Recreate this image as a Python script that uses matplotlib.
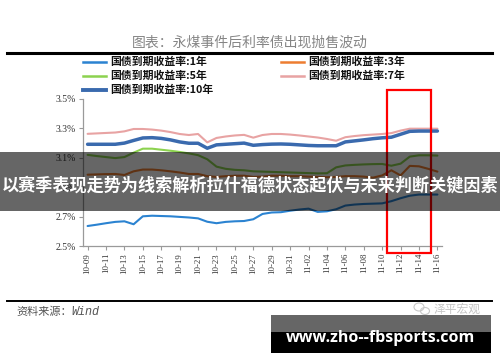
import matplotlib
matplotlib.use("Agg")
import matplotlib.pyplot as plt
from matplotlib.patches import Rectangle, Ellipse
from matplotlib.lines import Line2D

W, H = 500, 362
CJK = ["Noto Sans CJK SC", "DejaVu Sans"]
SERIF = ["Liberation Serif", "DejaVu Serif"]

# ── Data ──────────────────────────────────────────────────────────────────────
dates = [
    "10-09", "10-10", "10-11", "10-12", "10-13", "10-14", "10-15", "10-16",
    "10-17", "10-18", "10-19", "10-20", "10-21", "10-22", "10-23", "10-24",
    "10-25", "10-26", "10-27", "10-28", "10-29", "10-30", "10-31", "11-01",
    "11-02", "11-03", "11-04", "11-05", "11-06", "11-07", "11-08", "11-09",
    "11-10", "11-11", "11-12", "11-13", "11-14", "11-15", "11-16",
]
yield_1y = [2.636, 2.645, 2.655, 2.664, 2.668, 2.648, 2.702, 2.706, 2.704,
            2.702, 2.698, 2.694, 2.688, 2.665, 2.655, 2.664, 2.668, 2.670,
            2.682, 2.718, 2.728, 2.730, 2.740, 2.748, 2.754, 2.732, 2.736,
            2.750, 2.775, 2.782, 2.786, 2.788, 2.790, 2.805, 2.825, 2.842,
            2.850, 2.850, 2.850]
yield_3y = [2.985, 2.987, 2.989, 2.990, 2.983, 3.008, 3.020, 3.020, 3.015,
            3.008, 3.000, 2.990, 2.990, 2.975, 2.970, 2.975, 2.978, 2.978,
            2.970, 2.972, 2.978, 2.978, 2.975, 2.975, 2.972, 2.970, 2.968,
            2.970, 2.975, 2.975, 2.972, 2.965, 2.980, 3.015, 2.980, 3.045,
            3.042, 3.025, 3.006]
yield_5y = [3.120, 3.112, 3.105, 3.098, 3.105, 3.135, 3.162, 3.162, 3.155,
            3.148, 3.140, 3.130, 3.118, 3.090, 3.040, 3.025, 3.018, 3.015,
            3.008, 3.006, 3.004, 3.002, 3.000, 2.998, 2.996, 2.994, 2.995,
            3.035, 3.048, 3.052, 3.055, 3.057, 3.058, 3.046, 3.060, 3.108,
            3.117, 3.117, 3.115]
yield_7y = [3.263, 3.266, 3.269, 3.272, 3.280, 3.296, 3.296, 3.292, 3.285,
            3.275, 3.262, 3.255, 3.262, 3.205, 3.235, 3.245, 3.252, 3.256,
            3.237, 3.255, 3.262, 3.262, 3.258, 3.252, 3.245, 3.238, 3.228,
            3.216, 3.240, 3.248, 3.254, 3.258, 3.262, 3.268, 3.285, 3.298,
            3.298, 3.298, 3.298]
yield_10y = [3.192, 3.192, 3.192, 3.192, 3.200, 3.218, 3.235, 3.237, 3.232,
             3.222, 3.208, 3.199, 3.199, 3.165, 3.188, 3.192, 3.196, 3.200,
             3.185, 3.190, 3.193, 3.194, 3.192, 3.188, 3.184, 3.182, 3.182,
             3.182, 3.208, 3.215, 3.222, 3.230, 3.236, 3.240, 3.260, 3.280,
             3.282, 3.282, 3.282]
y_ticks = [2.5, 2.7, 2.9, 3.1, 3.3, 3.5]
y_tick_labels = ["2.5%", "2.7%", "2.9%", "3.1%", "3.3%", "3.5%"]

series = [
    ("国债到期收益率:1年", yield_1y, "#2B83D1", 1.5),
    ("国债到期收益率:3年", yield_3y, "#ED7D31", 1.5),
    ("国债到期收益率:5年", yield_5y, "#8CD24F", 1.5),
    ("国债到期收益率:7年", yield_7y, "#E8A3A3", 1.5),
    ("国债到期收益率:10年", yield_10y, "#3A6AAE", 2.5),
]


def fx(x):
    return x / W


def fy(y):
    return 1 - y / H


fig = plt.figure(figsize=(W / 100, H / 100), dpi=100)
fig.patch.set_facecolor("white")

# ── Main axes ─────────────────────────────────────────────────────────────────
ax = fig.add_axes([fx(83), fy(246), (442 - 83) / W, 147 / H])
x = list(range(len(dates)))
for name, vals, color, lw in series:
    ax.plot(x, vals, color=color, lw=lw, solid_capstyle="round")

ax.set_xlim(-0.5, len(dates) - 0.5)
ax.set_ylim(2.5, 3.5)
ax.set_yticks(y_ticks)
ax.set_yticklabels(y_tick_labels, family=SERIF, fontsize=7, color="#333333")
ax.set_xticks(x[::2])
ax.set_xticklabels(dates[::2], rotation=90, family=SERIF, fontsize=6.3,
                   color="#333333")
ax.tick_params(axis="both", length=3, width=0.8, color="#9a9a9a", pad=2)
for side in ("top", "right"):
    ax.spines[side].set_visible(False)
for side in ("left", "bottom"):
    ax.spines[side].set_color("#9a9a9a")
    ax.spines[side].set_linewidth(0.9)

# red highlight box around the sell-off days
ax.add_patch(Rectangle((32.5, 2.452), 4.8, 1.109, fill=False, edgecolor="red",
                       lw=1.6, clip_on=False, zorder=5))

# ── Title, rules, legend ──────────────────────────────────────────────────────
fig.text(fx(250), fy(43), "图表：永煤事件后利率债出现抛售波动", ha="center",
         va="center", family=CJK, fontsize=10, color="#858585")
fig.add_artist(Line2D([fx(7), fx(492)], [fy(52.5), fy(52.5)], color="black",
                      lw=2.2, transform=fig.transFigure))
fig.add_artist(Line2D([fx(7), fx(492)], [fy(300.5), fy(300.5)], color="black",
                      lw=1.4, transform=fig.transFigure))

legend_pos = [(83, 62), (281, 62), (83, 76), (281, 76), (83, 90)]
for (name, vals, color, lw), (lx, ly) in zip(series, legend_pos):
    fig.add_artist(Line2D([fx(lx), fx(lx + 23)], [fy(ly), fy(ly)], color=color,
                          lw=lw + 0.3, transform=fig.transFigure))
    fig.text(fx(lx + 27), fy(ly), name, ha="left", va="center", family=CJK,
             fontsize=7.8, fontweight="bold", color="#111111")

fig.text(fx(16), fy(312), "资料来源：", ha="left", va="center",
         family=CJK, fontsize=8, color="#555555")
fig.text(fx(71), fy(312), "Wind", ha="left", va="center",
         family=["Liberation Mono", "DejaVu Sans Mono"], fontsize=8.5,
         style="italic", color="#555555")

# wechat watermark
for (cx, cy, w, h) in [(419, 307, 10, 8), (425, 311, 9, 7)]:
    fig.add_artist(Ellipse((fx(cx), fy(cy)), w / W, h / H, fill=False,
                           edgecolor="#c8c8c8", lw=0.8,
                           transform=fig.transFigure))
fig.text(fx(433), fy(309), "泽平宏观", ha="left", va="center", family=CJK,
         fontsize=8.5, color="#c4c4c4")

# ── Overlays ──────────────────────────────────────────────────────────────────
fig.add_artist(Rectangle((0, fy(211)), 1, (211 - 152) / H, color="black",
                         alpha=0.6, lw=0, transform=fig.transFigure, zorder=10))
fig.text(0.5, fy(185.5), "以赛季表现走势为线索解析拉什福德状态起伏与未来判断关键因素",
         ha="center", va="center", family=CJK, fontsize=12.3,
         fontweight="bold", color="white", zorder=11)

fig.add_artist(Rectangle((fx(271), fy(332)), 220 / W, 17 / H, color="#666666",
                         lw=0, transform=fig.transFigure, zorder=10))
fig.add_artist(Rectangle((fx(271), fy(353)), 220 / W, 21 / H, color="black",
                         lw=0, transform=fig.transFigure, zorder=10))
fig.text(fx(380.5), fy(337.5), "www.zho--fbsports.com", ha="center",
         va="center", family=["Open Sans", "DejaVu Sans"], fontsize=11.5,
         fontweight="bold", color="white", zorder=11)

fig.savefig("out.png", dpi=100)
